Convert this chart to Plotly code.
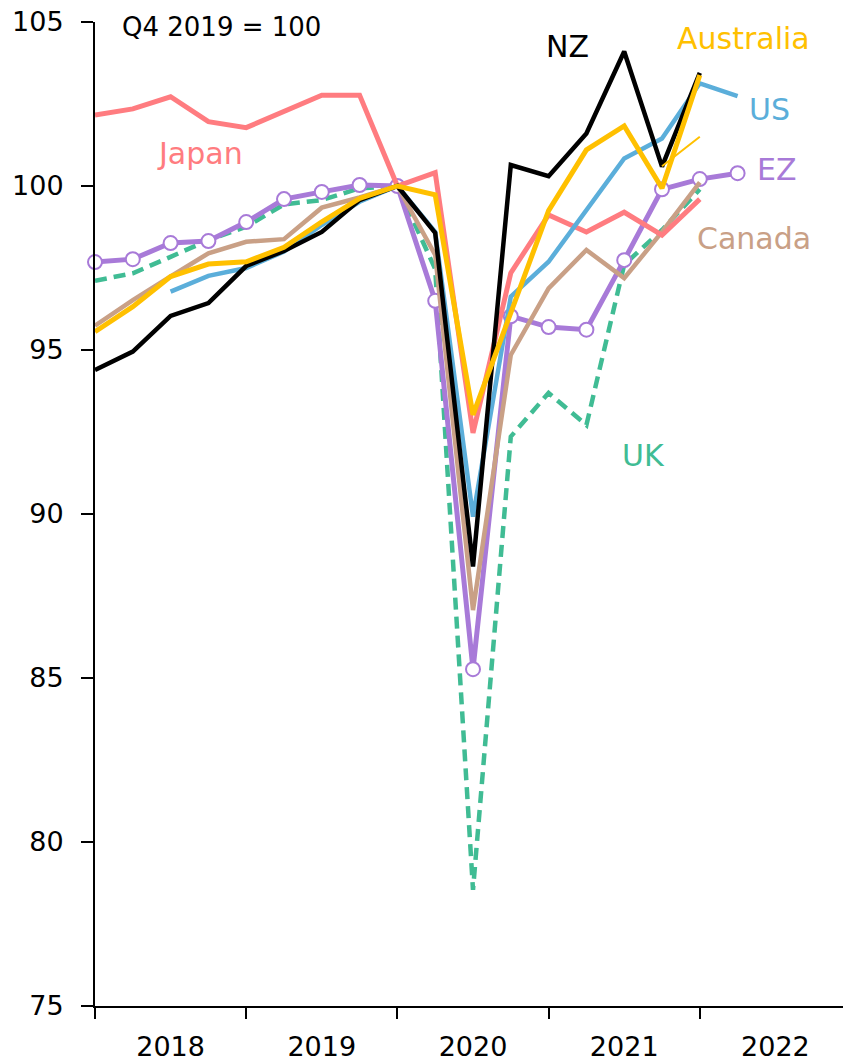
import plotly.graph_objects as go

quarters = ["2017Q4","2018Q1","2018Q2","2018Q3","2018Q4","2019Q1","2019Q2","2019Q3","2019Q4",
            "2020Q1","2020Q2","2020Q3","2020Q4","2021Q1","2021Q2","2021Q3","2021Q4","2022Q1"]

japan = [102.16,102.35,102.72,101.96,101.78,102.27,102.77,102.77,100.0,100.41,92.47,97.35,99.12,98.6,99.2,98.5,99.6,None]
nz = [94.39,94.95,96.04,96.43,97.56,98.02,98.6,99.57,100.0,98.57,88.4,100.64,100.3,101.6,104.1,100.59,103.45,None]
us = [None,None,96.78,97.26,97.5,98.0,98.81,99.52,100.0,98.6,89.92,96.63,97.69,99.27,100.84,101.45,103.13,102.74]
australia = [95.56,96.32,97.24,97.62,97.69,98.13,98.91,99.62,100.0,99.73,93.02,96.13,99.25,101.1,101.83,99.93,103.38,None]
australia_alt = [None,None,None,None,None,None,None,None,None,None,None,None,None,None,None,100.6,101.5,None]
ez = [97.68,97.77,98.26,98.32,98.9,99.6,99.82,100.03,100.0,96.5,85.27,96.03,95.7,95.62,97.74,99.9,100.21,100.39]
canada = [95.74,96.52,97.24,97.95,98.3,98.38,99.34,99.65,100.0,97.9,87.07,94.85,96.88,98.05,97.19,98.6,100.11,None]
uk = [97.11,97.34,97.84,98.35,98.76,99.44,99.57,99.93,100.0,97.47,78.54,92.36,93.69,92.71,97.6,98.66,99.9,None]

year_labels = ["2018","2019","2020","2021","2022"]
y_ticks = [75,80,85,90,95,100,105]

def qx(q):
    return int(q[:4]) + int(q[5]) / 4.0

x = [qx(q) for q in quarters]

FONT = "DejaVu Sans"
C_JAPAN = "#FF7C80"
C_NZ = "#000000"
C_US = "#5BAEDA"
C_AUS = "#FFC000"
C_EZ = "#A87AD8"
C_CAN = "#C9A086"
C_UK = "#40BC94"

fig = go.Figure()

def add(vals, color, width=4.5, dash=None, markers=False):
    fig.add_trace(go.Scatter(
        x=x, y=vals, mode="lines+markers" if markers else "lines",
        line=dict(color=color, width=width, dash=dash),
        marker=dict(size=14, color="white", line=dict(color=color, width=2)) if markers else None,
        connectgaps=False, showlegend=False, hoverinfo="skip", cliponaxis=False))

add(uk, C_UK, 4.5, dash="12px,7px")
add(ez, C_EZ, 5, markers=True)
add(canada, C_CAN, 4.5)
add(japan, C_JAPAN, 5)
add(us, C_US, 4.5)
add(nz, C_NZ, 4.5)
add(australia, C_AUS, 5)
add(australia_alt, C_AUS, 2)

def label(text, xv, yv, color, anchor="center", size=30):
    fig.add_annotation(x=xv, y=yv, text=text, showarrow=False, xanchor=anchor, yanchor="middle",
                       font=dict(family=FONT, size=size, color=color))

label("Q4 2019 = 100", 2018.165, 104.85, "black", anchor="left", size=26)
label("Japan", 2018.694, 101.0, C_JAPAN)
label("NZ", 2021.128, 104.24, "black")
label("Australia", 2022.286, 104.51, C_AUS)
label("US", 2022.464, 102.32, C_US)
label("EZ", 2022.51, 100.49, C_EZ)
label("Canada", 2022.358, 98.41, C_CAN)
label("UK", 2021.63, 91.77, C_UK)

fig.update_layout(
    width=843, height=1055,
    margin=dict(l=87, r=0, t=14, b=57),
    paper_bgcolor="white", plot_bgcolor="white",
    font=dict(family=FONT, size=27, color="black"),
    xaxis=dict(range=[2018, 2023], tickmode="array", automargin=False,
               tickvals=[int(y) + 0.5 for y in year_labels], ticktext=year_labels,
               ticks="", showgrid=False, zeroline=False, ticklabelstandoff=16,
               ticklabeloverflow="allow",
               showline=True, linecolor="black", linewidth=2,
               minor=dict(tickmode="array", tickvals=[2018,2019,2020,2021,2022,2023],
                          ticks="outside", ticklen=11, tickwidth=2, tickcolor="black", showgrid=False),
               tickfont=dict(family=FONT, size=27, color="black")),
    yaxis=dict(range=[75, 105], tickmode="array", tickvals=y_ticks, automargin=False,
               ticks="outside", ticklen=12, tickwidth=2, tickcolor="black", ticklabelstandoff=12,
               ticklabeloverflow="allow",
               showgrid=False, zeroline=False, showline=True, linecolor="black", linewidth=2,
               tickfont=dict(family=FONT, size=27, color="black")),
)

fig.write_html("out.html")
